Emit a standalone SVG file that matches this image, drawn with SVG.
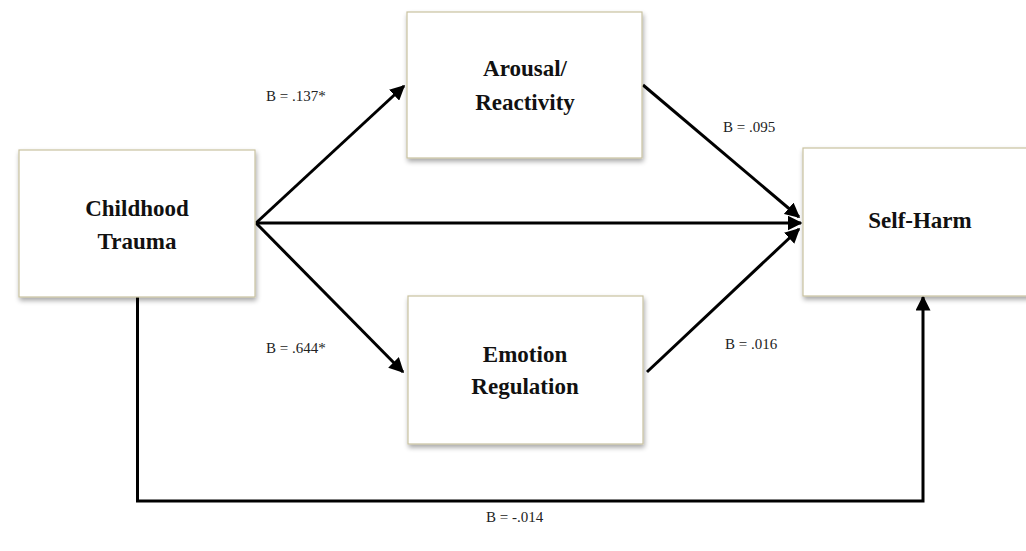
<svg xmlns="http://www.w3.org/2000/svg" width="1026" height="551" viewBox="0 0 1026 551">
<style>
.box{fill:#ffffff;stroke:#c9c2a0;stroke-width:1.2;filter:url(#sh)}
.t{font-family:"Liberation Serif","Times New Roman",serif;font-weight:bold;font-size:23px;fill:#111;text-anchor:middle}
.lbl{font-family:"Liberation Serif","Times New Roman",serif;font-size:15px;fill:#222}
.c{fill:none;stroke:#000;stroke-width:3}
</style>
<defs>
<filter id="sh" x="-10%" y="-10%" width="120%" height="125%">
<feGaussianBlur in="SourceAlpha" stdDeviation="2.5"/>
<feOffset dx="1" dy="3" result="b"/>
<feComponentTransfer><feFuncA type="linear" slope="0.35"/></feComponentTransfer>
<feMerge><feMergeNode/><feMergeNode in="SourceGraphic"/></feMerge>
</filter>
<marker id="ah" viewBox="0 0 10 10" refX="9" refY="5" markerWidth="5" markerHeight="5" orient="auto" markerUnits="strokeWidth">
<path d="M0,0 L10,5 L0,10 z" fill="#000"/>
</marker>
</defs>
<rect width="1026" height="551" fill="#ffffff"/>
<g id="connectors">
<line class="c" x1="256" y1="223" x2="404" y2="86" marker-end="url(#ah)"/>
<line class="c" x1="256" y1="223" x2="801" y2="223" marker-end="url(#ah)"/>
<line class="c" x1="256" y1="223" x2="403" y2="372" marker-end="url(#ah)"/>
<line class="c" x1="643" y1="85" x2="799" y2="217" marker-end="url(#ah)"/>
<line class="c" x1="647" y1="372" x2="799" y2="229" marker-end="url(#ah)"/>
<polyline class="c" points="137.5,297 137.5,501 923,501 923,297" marker-end="url(#ah)"/>
</g>
<g id="childhood-trauma">
<rect class="box" x="19" y="150" width="236" height="147"/>
<text class="t" x="137" y="216">Childhood</text>
<text class="t" x="137" y="249">Trauma</text>
</g>
<g id="arousal-reactivity">
<rect class="box" x="407" y="12" width="235" height="146"/>
<text class="t" x="525" y="76">Arousal/</text>
<text class="t" x="525" y="110">Reactivity</text>
</g>
<g id="emotion-regulation">
<rect class="box" x="408" y="296" width="235" height="148"/>
<text class="t" x="525" y="362">Emotion</text>
<text class="t" x="525" y="394">Regulation</text>
</g>
<g id="self-harm">
<rect class="box" x="803" y="148" width="240" height="148"/>
<text class="t" x="920" y="228">Self-Harm</text>
</g>
<g id="labels">
<text class="lbl" x="266" y="101">B = .137*</text>
<text class="lbl" x="723" y="132">B = .095</text>
<text class="lbl" x="266" y="353">B = .644*</text>
<text class="lbl" x="725" y="349">B = .016</text>
<text class="lbl" x="486" y="522">B = -.014</text>
</g>
</svg>
